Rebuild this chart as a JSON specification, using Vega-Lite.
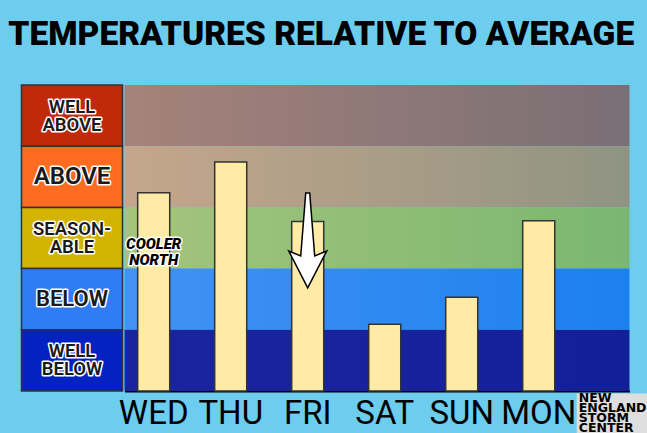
{
  "$schema": "https://vega.github.io/schema/vega-lite/v6.json",
  "background": "#6ccdee",
  "padding": {"left": 7.5, "top": 17, "right": 0, "bottom": 0},
  "spacing": 2,
  "bounds": "flush",
  "title": {"text": "TEMPERATURES RELATIVE TO AVERAGE", "font": "Roboto", "fontSize": 33.5, "fontWeight": 900, "color": "black", "anchor": "middle", "offset": 32, "dx": -13.5},
  "config": {"view": {"stroke": null}, "concat": {"spacing": 2}},
  "datasets": {
    "bands": [
      {"band": "WELL ABOVE", "label": "WELL\nABOVE", "lines": 2, "lo": 4, "hi": 5, "mid": 4.5},
      {"band": "ABOVE", "label": "ABOVE", "lines": 1, "lo": 3, "hi": 4, "mid": 3.5},
      {"band": "SEASONABLE", "label": "SEASON-\nABLE", "lines": 2, "lo": 2, "hi": 3, "mid": 2.5},
      {"band": "BELOW", "label": "BELOW", "lines": 1, "lo": 1, "hi": 2, "mid": 1.5},
      {"band": "WELL BELOW", "label": "WELL\nBELOW", "lines": 2, "lo": 0, "hi": 1, "mid": 0.5}
    ],
    "days": [
      {"day": "WED", "temp": 3.24},
      {"day": "THU", "temp": 3.74},
      {"day": "FRI", "temp": 2.77},
      {"day": "SAT", "temp": 1.09},
      {"day": "SUN", "temp": 1.53},
      {"day": "MON", "temp": 2.78}
    ]
  },
  "hconcat": [
    {
      "width": 101,
      "height": 306,
      "data": {"name": "bands"},
      "layer": [
        {
          "mark": {"type": "rect", "stroke": "#333333", "strokeWidth": 1.5},
          "encoding": {
            "y": {"field": "lo", "type": "quantitative", "scale": {"domain": [0, 5], "nice": false}, "axis": null},
            "y2": {"field": "hi"},
            "color": {"field": "band", "type": "nominal", "legend": null,
              "scale": {"domain": ["WELL ABOVE", "ABOVE", "SEASONABLE", "BELOW", "WELL BELOW"],
                        "range": ["#c12a08", "#fe6c21", "#d3b402", "#2f7cf5", "#0322c0"]}}
          }
        },
        {
          "transform": [{"filter": "datum.lines === 2"}],
          "mark": {"type": "text", "font": "Roboto", "fontWeight": 600, "fontSize": 18.5, "lineBreak": "\n", "lineHeight": 18, "dy": -9, "fill": "#1a1a1a", "stroke": "white", "strokeWidth": 3, "strokeJoin": "round", "align": "center", "baseline": "middle"},
          "encoding": {
            "y": {"field": "mid", "type": "quantitative", "scale": {"domain": [0, 5], "nice": false}, "axis": null},
            "text": {"field": "label"}
          }
        },
        {
          "transform": [{"filter": "datum.lines === 2"}],
          "mark": {"type": "text", "font": "Roboto", "fontWeight": 600, "fontSize": 18.5, "lineBreak": "\n", "lineHeight": 18, "dy": -9, "fill": "#1a1a1a", "align": "center", "baseline": "middle"},
          "encoding": {
            "y": {"field": "mid", "type": "quantitative", "scale": {"domain": [0, 5], "nice": false}, "axis": null},
            "text": {"field": "label"}
          }
        },
        {
          "transform": [{"filter": "datum.band === 'ABOVE'"}],
          "mark": {"type": "text", "font": "Roboto", "fontWeight": 600, "fontSize": 24, "fill": "#1a1a1a", "stroke": "white", "strokeWidth": 3, "strokeJoin": "round", "align": "center", "baseline": "middle"},
          "encoding": {
            "y": {"field": "mid", "type": "quantitative", "scale": {"domain": [0, 5], "nice": false}, "axis": null},
            "text": {"field": "label"}
          }
        },
        {
          "transform": [{"filter": "datum.band === 'ABOVE'"}],
          "mark": {"type": "text", "font": "Roboto", "fontWeight": 600, "fontSize": 24, "fill": "#1a1a1a", "align": "center", "baseline": "middle"},
          "encoding": {
            "y": {"field": "mid", "type": "quantitative", "scale": {"domain": [0, 5], "nice": false}, "axis": null},
            "text": {"field": "label"}
          }
        },
        {
          "transform": [{"filter": "datum.band === 'BELOW'"}],
          "mark": {"type": "text", "font": "Roboto", "fontWeight": 600, "fontSize": 22, "fill": "#1a1a1a", "stroke": "white", "strokeWidth": 3, "strokeJoin": "round", "align": "center", "baseline": "middle"},
          "encoding": {
            "y": {"field": "mid", "type": "quantitative", "scale": {"domain": [0, 5], "nice": false}, "axis": null},
            "text": {"field": "label"}
          }
        },
        {
          "transform": [{"filter": "datum.band === 'BELOW'"}],
          "mark": {"type": "text", "font": "Roboto", "fontWeight": 600, "fontSize": 22, "fill": "#1a1a1a", "align": "center", "baseline": "middle"},
          "encoding": {
            "y": {"field": "mid", "type": "quantitative", "scale": {"domain": [0, 5], "nice": false}, "axis": null},
            "text": {"field": "label"}
          }
        }
      ]
    },
    {
      "width": 505,
      "height": 306,
      "layer": [
        {
          "data": {"name": "bands"},
          "transform": [{"filter": "datum.band === 'WELL ABOVE'"}],
          "mark": {"type": "rect", "fill": {"gradient": "linear", "x1": 0, "y1": 0, "x2": 1, "y2": 0, "stops": [{"offset": 0, "color": "#a6827a"}, {"offset": 1, "color": "#796f75"}]}},
          "encoding": {
            "y": {"field": "lo", "type": "quantitative", "scale": {"domain": [0, 5], "nice": false}, "axis": null},
            "y2": {"field": "hi"}
          }
        },
        {
          "data": {"name": "bands"},
          "transform": [{"filter": "datum.band === 'ABOVE'"}],
          "mark": {"type": "rect", "fill": {"gradient": "linear", "x1": 0, "y1": 0, "x2": 1, "y2": 0, "stops": [{"offset": 0, "color": "#c5a68c"}, {"offset": 1, "color": "#8f9482"}]}},
          "encoding": {
            "y": {"field": "lo", "type": "quantitative", "scale": {"domain": [0, 5], "nice": false}},
            "y2": {"field": "hi"}
          }
        },
        {
          "data": {"name": "bands"},
          "transform": [{"filter": "datum.band === 'SEASONABLE'"}],
          "mark": {"type": "rect", "fill": {"gradient": "linear", "x1": 0, "y1": 0, "x2": 1, "y2": 0, "stops": [{"offset": 0, "color": "#a4c47c"}, {"offset": 1, "color": "#7ab771"}]}},
          "encoding": {
            "y": {"field": "lo", "type": "quantitative", "scale": {"domain": [0, 5], "nice": false}},
            "y2": {"field": "hi"}
          }
        },
        {
          "data": {"name": "bands"},
          "transform": [{"filter": "datum.band === 'BELOW'"}],
          "mark": {"type": "rect", "fill": {"gradient": "linear", "x1": 0, "y1": 0, "x2": 1, "y2": 0, "stops": [{"offset": 0, "color": "#4392f4"}, {"offset": 1, "color": "#1c80ef"}]}},
          "encoding": {
            "y": {"field": "lo", "type": "quantitative", "scale": {"domain": [0, 5], "nice": false}},
            "y2": {"field": "hi"}
          }
        },
        {
          "data": {"name": "bands"},
          "transform": [{"filter": "datum.band === 'WELL BELOW'"}],
          "mark": {"type": "rect", "fill": {"gradient": "linear", "x1": 0, "y1": 0, "x2": 1, "y2": 0, "stops": [{"offset": 0, "color": "#1a249e"}, {"offset": 1, "color": "#131f99"}]}},
          "encoding": {
            "y": {"field": "lo", "type": "quantitative", "scale": {"domain": [0, 5], "nice": false}},
            "y2": {"field": "hi"}
          }
        },
        {
          "data": {"name": "days"},
          "mark": {"type": "bar", "fill": "#ffeba6", "stroke": "#333333", "strokeWidth": 1.5},
          "encoding": {
            "x": {"field": "day", "type": "nominal", "sort": ["WED", "THU", "FRI", "SAT", "SUN", "MON"],
                  "scale": {"paddingInner": 0.584, "paddingOuter": 0.571, "align": 0.15},
                  "axis": {"title": null, "labelAngle": 0, "labelFont": "Roboto", "labelFontSize": 33, "labelColor": "black", "ticks": false, "domainColor": "black", "domainWidth": 2, "labelPadding": 6}},
            "y": {"field": "temp", "type": "quantitative", "scale": {"domain": [0, 5], "nice": false}}
          }
        },
        {
          "data": {"values": [{"note": "arrow"}]},
          "mark": {"type": "point", "shape": "M-0.042,-1L0.042,-1L0.147,0.326L0.4,0.221L0,1L-0.4,0.221L-0.147,0.326Z", "size": 9025, "filled": true, "fill": "white", "stroke": "black", "strokeWidth": 1.5, "opacity": 1},
          "encoding": {
            "x": {"datum": "FRI", "type": "nominal"},
            "y": {"datum": 2.46, "type": "quantitative"}
          }
        },
        {
          "data": {"values": [{"note": "COOLER\nNORTH"}]},
          "mark": {"type": "text", "font": "Roboto", "fontStyle": "italic", "fontWeight": 900, "fontSize": 15, "lineBreak": "\n", "lineHeight": 16, "dy": -8, "fill": "black", "stroke": "white", "strokeWidth": 3, "strokeJoin": "round", "align": "center", "baseline": "middle"},
          "encoding": {
            "x": {"datum": "WED", "type": "nominal"},
            "y": {"datum": 2.27, "type": "quantitative"},
            "text": {"field": "note"}
          }
        },
        {
          "data": {"values": [{"note": "COOLER\nNORTH"}]},
          "mark": {"type": "text", "font": "Roboto", "fontStyle": "italic", "fontWeight": 900, "fontSize": 15, "lineBreak": "\n", "lineHeight": 16, "dy": -8, "fill": "black", "align": "center", "baseline": "middle"},
          "encoding": {
            "x": {"datum": "WED", "type": "nominal"},
            "y": {"datum": 2.27, "type": "quantitative"},
            "text": {"field": "note"}
          }
        },
        {
          "data": {"values": [{"note": "logo"}]},
          "mark": {"type": "point", "shape": "M-1,-0.57L1,-0.57L1,0.57L-1,0.57Z", "size": 5184, "filled": true, "fill": "#dedede", "opacity": 1, "xOffset": 74},
          "encoding": {
            "x": {"datum": "MON", "type": "nominal"},
            "y": {"datum": -0.376, "type": "quantitative"}
          }
        },
        {
          "data": {"values": [{"note": "NEW\nENGLAND\nSTORM\nCENTER"}]},
          "mark": {"type": "text", "font": "DejaVu Sans", "fontWeight": "bold", "fontSize": 12.5, "lineBreak": "\n", "lineHeight": 10, "dy": -16, "fill": "black", "align": "left", "baseline": "middle", "xOffset": 40},
          "encoding": {
            "x": {"datum": "MON", "type": "nominal"},
            "y": {"datum": -0.376, "type": "quantitative"},
            "text": {"field": "note"}
          }
        }
      ]
    }
  ]
}
